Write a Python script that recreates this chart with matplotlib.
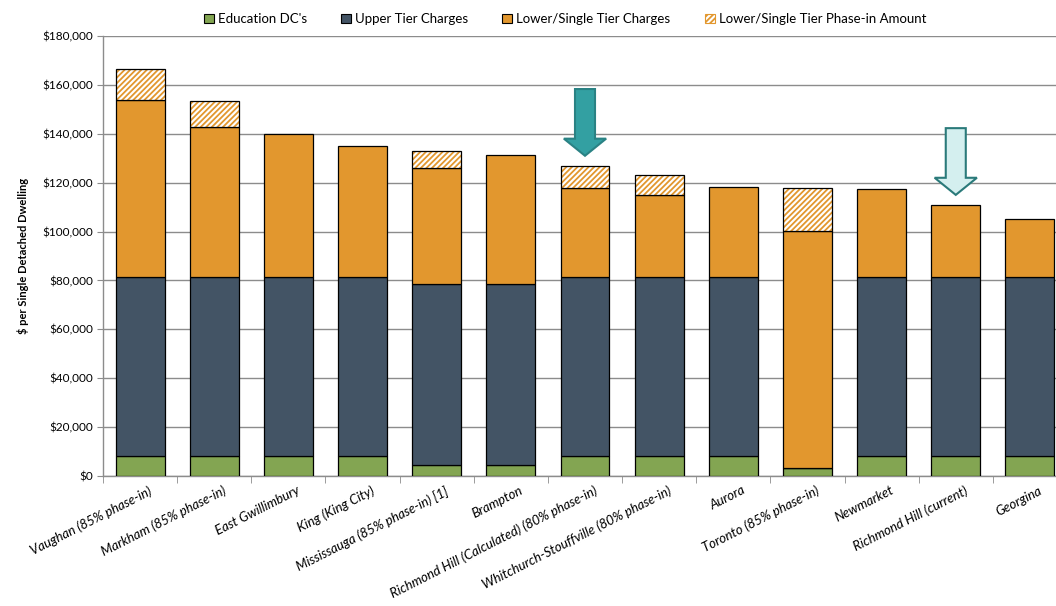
import numpy as np
import matplotlib
matplotlib.use('Agg')
import matplotlib.pyplot as plt
from matplotlib.patches import Patch, FancyArrow
from matplotlib.ticker import FuncFormatter, MultipleLocator, FixedLocator
from matplotlib.transforms import ScaledTranslation

# ----- data -----
municipalities = ["Vaughan (85% phase-in)", "Markham (85% phase-in)", "East Gwillimbury",
                  "King (King City)", "Mississauga (85% phase-in) [1]", "Brampton",
                  "Richmond Hill (Calculated) (80% phase-in)", "Whitchurch-Stouffville (80% phase-in)",
                  "Aurora", "Toronto (85% phase-in)", "Newmarket", "Richmond Hill (current)", "Georgina"]
education = [8200, 8200, 8200, 8200, 4400, 4400, 8200, 8200, 8200, 3300, 8200, 8200, 8200]
upper_tier = [73200, 73200, 73200, 73200, 74000, 74000, 73200, 73200, 73200, 0, 73200, 73200, 73200]
lower_tier = [72400, 61200, 58500, 53700, 47500, 52800, 36300, 33400, 37000, 97100, 36000, 29300, 23600]
phase_in = [12900, 10900, 0, 0, 7100, 0, 9000, 8200, 0, 17300, 0, 0, 0]

arrow_idx = [6, 11]   # Richmond Hill calculated / current

GREEN = '#83A552'
DARK = '#435465'
ORANGE = '#E2972E'

plt.rcParams['font.family'] = ['Lato', 'DejaVu Sans']
plt.rcParams['hatch.linewidth'] = 1.3

fig = plt.figure(figsize=(10.56, 6.06), dpi=100)
ax = fig.add_axes([103/1056, 130/606, 964/1056, 440/606])

x = np.arange(len(municipalities))
w = 0.66
edu = np.array(education); up = np.array(upper_tier); lo = np.array(lower_tier); ph = np.array(phase_in)

ax.bar(x, edu, w, color=GREEN, edgecolor='black', linewidth=0.9, zorder=3)
ax.bar(x, up, w, bottom=edu, color=DARK, edgecolor='black', linewidth=0.9, zorder=3)
ax.bar(x, lo, w, bottom=edu + up, color=ORANGE, edgecolor='black', linewidth=0.9, zorder=3)
# hatched phase-in: orange hatch on white, then black outline on top
m = ph > 0
ax.bar(x[m], ph[m], w, bottom=(edu + up + lo)[m], color='white', edgecolor=ORANGE,
       hatch='//////', linewidth=0, zorder=3)
ax.bar(x[m], ph[m], w, bottom=(edu + up + lo)[m], fill=False, edgecolor='black',
       linewidth=0.9, zorder=4)

# arrows pointing at the Richmond Hill bars
tot = edu + up + lo + ph
styles = [dict(facecolor='#33A0A2', edgecolor='#2A8284'),
          dict(facecolor='#D4EFEF', edgecolor='#2A7A7A')]
for i, st in zip(arrow_idx, styles):
    tip = tot[i] + 4300
    length = 27300
    arr = FancyArrow(x[i], tip + length, 0, -length, width=0.27, head_width=0.57,
                     head_length=7000, length_includes_head=True, linewidth=1.5,
                     zorder=5, **st)
    ax.add_patch(arr)

ax.set_ylim(0, 180000)
ax.set_xlim(-0.5, len(municipalities) - 0.5)
ax.yaxis.set_major_locator(MultipleLocator(20000))
ax.yaxis.set_major_formatter(FuncFormatter(lambda v, p: f"${v:,.0f}"))
ax.grid(axis='y', color='#8C8C8C', linewidth=1.0, zorder=0)
ax.set_axisbelow(True)

for s in ['top', 'right']:
    ax.spines[s].set_visible(False)
for s in ['left', 'bottom']:
    ax.spines[s].set_color('#8C8C8C')
    ax.spines[s].set_linewidth(1.0)

ax.tick_params(axis='y', labelsize=8.5, color='#8C8C8C', length=4, pad=3)
ax.set_xticks(x)
ax.set_xticklabels(municipalities, rotation=27, ha='right', rotation_mode='anchor',
                   fontsize=9.5, style='italic')
ax.tick_params(axis='x', which='major', length=0, pad=6)
# nudge labels a little right, like the original
for lbl in ax.get_xticklabels():
    lbl.set_transform(lbl.get_transform() + ScaledTranslation(6/72, 0, fig.dpi_scale_trans))
ax.xaxis.set_minor_locator(FixedLocator(np.arange(len(municipalities) + 1) - 0.5))
ax.tick_params(axis='x', which='minor', length=5, color='#8C8C8C')

ax.set_ylabel("$ per Single Detached Dwelling", fontsize=8, fontweight='bold', labelpad=10)

handles = [Patch(facecolor=GREEN, edgecolor='black', linewidth=0.8),
           Patch(facecolor=DARK, edgecolor='black', linewidth=0.8),
           Patch(facecolor=ORANGE, edgecolor='black', linewidth=0.8),
           Patch(facecolor='white', edgecolor=ORANGE, hatch='//////', linewidth=0.8)]
labels = ["Education DC's", "Upper Tier Charges", "Lower/Single Tier Charges",
          "Lower/Single Tier Phase-in Amount"]
fig.legend(handles, labels, loc='center', bbox_to_anchor=(565/1056, 1 - 19/606), ncol=4,
           frameon=False, fontsize=9.5, handlelength=0.75, handleheight=0.75,
           handletextpad=0.3, columnspacing=2.6)

fig.savefig('out.png', dpi=100)
